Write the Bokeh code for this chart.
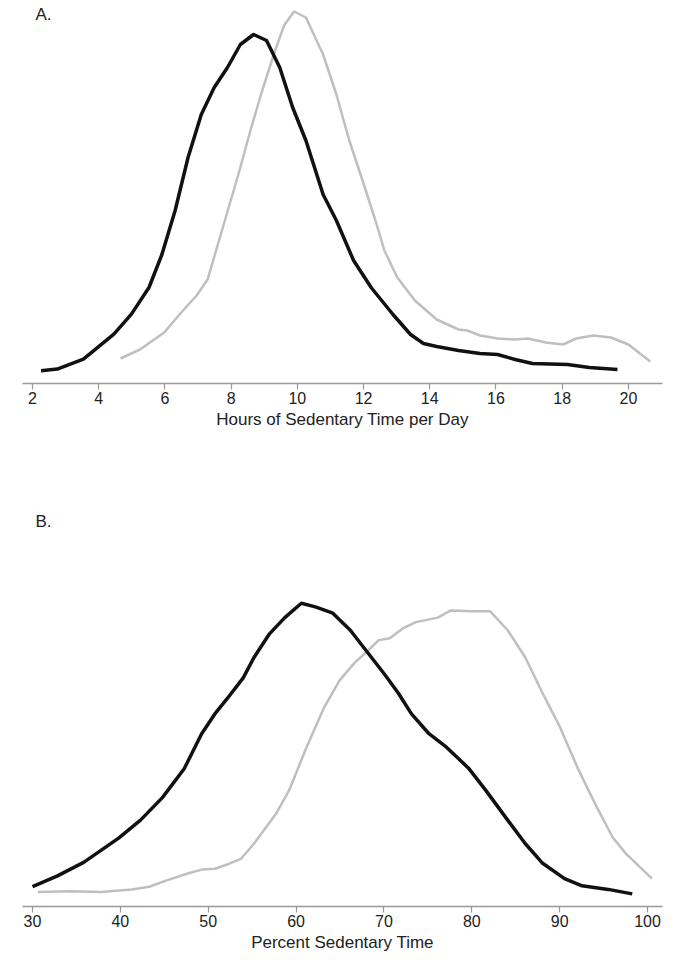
from bokeh.plotting import figure
from bokeh.layouts import column
from bokeh.models import FixedTicker, Range1d, Label
from bokeh.embed import file_html
from bokeh.resources import INLINE

# Panel A: hours of sedentary time per day (density estimates)
hours_black_x = [2.26, 2.75, 3.54, 4.46, 4.99, 5.52, 5.91, 6.31, 6.70, 7.10, 7.49, 7.89, 8.28, 8.68,
                 9.07, 9.47, 9.86, 10.26, 10.78, 11.18, 11.70, 12.23, 12.89, 13.42, 13.81, 14.21,
                 14.87, 15.52, 16.05, 16.58, 17.10, 18.16, 18.82, 19.67]
hours_black_y = [0.0064, 0.0072, 0.0122, 0.0247, 0.0347, 0.0480, 0.0645, 0.0865, 0.1130, 0.1345,
                 0.1480, 0.1580, 0.1695, 0.1745, 0.1715, 0.1580, 0.1380, 0.1215, 0.0945, 0.0815,
                 0.0615, 0.0480, 0.0345, 0.0245, 0.0200, 0.0185, 0.0165, 0.0150, 0.0145, 0.0120,
                 0.0100, 0.0095, 0.0080, 0.0070]
hours_gray_x = [4.66, 5.25, 5.98, 6.44, 6.96, 7.29, 7.75, 8.22, 8.61, 8.94, 9.33, 9.60, 9.90, 10.26,
                10.78, 11.18, 11.57, 11.97, 12.36, 12.63, 13.02, 13.55, 14.21, 14.87, 15.13, 15.52,
                16.05, 16.58, 16.97, 17.50, 18.03, 18.42, 18.95, 19.47, 20.00, 20.66]
hours_gray_y = [0.0125, 0.0170, 0.0255, 0.0345, 0.0440, 0.0520, 0.0780, 0.1045, 0.1280, 0.1465,
                0.1665, 0.1790, 0.1860, 0.1830, 0.1645, 0.1445, 0.1215, 0.1015, 0.0815, 0.0665,
                0.0530, 0.0415, 0.0320, 0.0270, 0.0265, 0.0240, 0.0225, 0.0220, 0.0225, 0.0205,
                0.0195, 0.0225, 0.0240, 0.0230, 0.0195, 0.0110]
hours_ticks = [2, 4, 6, 8, 10, 12, 14, 16, 18, 20]

# Panel B: percent sedentary time (density estimates)
pct_black_x = [30.0, 32.84, 35.82, 39.80, 42.29, 44.78, 47.26, 49.25, 50.75, 52.24, 53.98, 55.22,
               56.97, 58.71, 60.60, 62.19, 64.18, 66.17, 68.16, 70.15, 71.64, 73.13, 75.12, 77.11,
               79.60, 81.59, 84.08, 86.07, 88.06, 90.55, 92.54, 95.52, 98.26]
pct_black_y = [0.0022, 0.0034, 0.0049, 0.0076, 0.0096, 0.0121, 0.0153, 0.0192, 0.0214, 0.0232,
               0.0254, 0.0277, 0.0303, 0.0321, 0.0337, 0.0333, 0.0326, 0.0307, 0.0282, 0.0257,
               0.0237, 0.0214, 0.0192, 0.0177, 0.0154, 0.0129, 0.0096, 0.0070, 0.0048, 0.0031,
               0.0023, 0.0019, 0.0014]
pct_gray_x = [30.6, 34.33, 37.81, 41.29, 43.28, 45.27, 47.76, 49.25, 50.75, 52.24, 53.73, 55.22,
              57.71, 59.20, 61.19, 63.18, 64.93, 66.67, 68.16, 69.40, 70.65, 72.14, 73.63, 76.12,
              77.61, 80.10, 82.09, 84.08, 86.07, 88.06, 90.05, 92.04, 94.03, 96.02, 97.51, 100.5]
pct_gray_y = [0.0016, 0.0017, 0.0016, 0.0019, 0.0022, 0.0029, 0.0037, 0.0041, 0.0042, 0.0047,
              0.0053, 0.0070, 0.0103, 0.0129, 0.0177, 0.0221, 0.0251, 0.0271, 0.0284, 0.0296,
              0.0298, 0.0309, 0.0316, 0.0321, 0.0329, 0.0328, 0.0328, 0.0307, 0.0277, 0.0237,
              0.0199, 0.0154, 0.0114, 0.0077, 0.0059, 0.0031]
pct_ticks = [30, 40, 50, 60, 70, 80, 90, 100]

FONT = "Liberation Sans"
BLACK = "#111111"
GRAY = "#bfbfbf"
TEXT = "#222222"


def make_panel(height, top, bottom, xr, yr, ticks, xlabel):
    p = figure(width=666, height=height, output_backend="svg", toolbar_location=None,
               x_range=Range1d(*xr), y_range=Range1d(*yr),
               min_border_left=22, min_border_right=4, min_border_top=top,
               min_border_bottom=bottom)
    p.yaxis.visible = False
    p.grid.visible = False
    p.outline_line_color = None
    p.border_fill_color = "white"
    p.background_fill_color = "white"
    ax = p.xaxis[0]
    ax.ticker = FixedTicker(ticks=ticks)
    ax.minor_tick_line_color = None
    ax.axis_line_color = "#999999"
    ax.axis_line_width = 1.5
    ax.major_tick_line_color = "#999999"
    ax.major_tick_line_width = 1.2
    ax.major_tick_out = 6
    ax.major_tick_in = 0
    ax.major_label_standoff = 2
    ax.major_label_text_font = FONT
    ax.major_label_text_font_size = "16px"
    ax.major_label_text_color = TEXT
    ax.axis_label = xlabel
    ax.axis_label_text_font = FONT
    ax.axis_label_text_font_size = "17px"
    ax.axis_label_text_font_style = "normal"
    ax.axis_label_text_color = TEXT
    ax.axis_label_standoff = 3
    return p


pA = make_panel(466, 3, 83, (1.70, 21.03), (0, 0.19), hours_ticks,
                "Hours of Sedentary Time per Day")
pA.line(hours_gray_x, hours_gray_y, line_color=GRAY, line_width=2.5, line_join="round")
pA.line(hours_black_x, hours_black_y, line_color=BLACK, line_width=3.5, line_join="round")
pA.add_layout(Label(x=2.09, y=0.1845, text="A.", text_font=FONT, text_font_size="17px",
                    text_baseline="middle", text_align="left", text_color=TEXT))

pB = make_panel(458, 5, 52, (28.86, 101.70), (0, 0.04456), pct_ticks,
                "Percent Sedentary Time")
pB.line(pct_gray_x, pct_gray_y, line_color=GRAY, line_width=2.5, line_join="round")
pB.line(pct_black_x, pct_black_y, line_color=BLACK, line_width=3.5, line_join="round")
pB.add_layout(Label(x=30.34, y=0.0428, text="B.", text_font=FONT, text_font_size="17px",
                    text_baseline="middle", text_align="left", text_color=TEXT))

layout = column(pA, pB, spacing=34)
open("out.html", "w").write(file_html(layout, INLINE))
